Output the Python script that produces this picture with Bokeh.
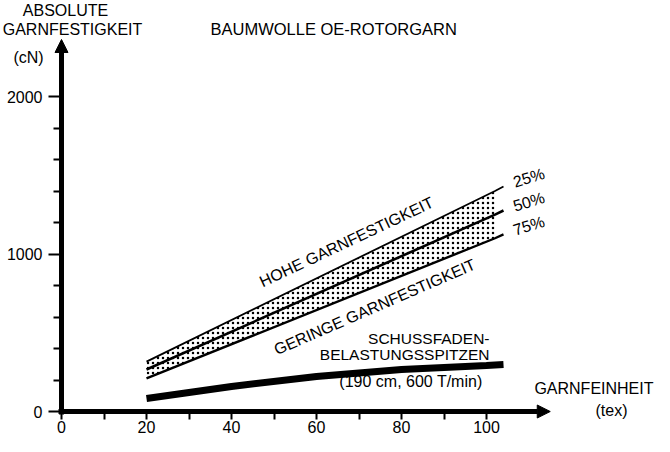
from bokeh.plotting import figure
from bokeh.models import Range1d, LinearAxis, FixedTicker, Arrow, NormalHead, Label
from bokeh.embed import file_html
from bokeh.resources import INLINE

# ---------------- data ----------------
x_band = [20, 102, 104]            # Garnfeinheit (tex)
q25 = [317, 1400, 1429]            # 25 % line (cN)
q50 = [267, 1250, 1276]            # 50 % line
q75 = [210, 1100, 1124]            # 75 % line
x_load = [20, 40, 60, 80, 100, 104]
load = [83, 159, 222, 267, 292, 298]   # Schussfaden-Belastungsspitzen
x_ticks = [0, 20, 40, 60, 80, 100]
x_minor = [10, 30, 50, 70, 90]
y_ticks = [0, 1000, 2000]
y_minor = [200, 400, 600, 800, 1200, 1400, 1600, 1800]
pct_labels = ["25%", "50%", "75%"]

# ---------------- layout ----------------
W, H = 654, 436
PXX, PXY = 4.25, 0.1575           # px per data unit
SX, SY = 8, 11                    # shift of the drawing against the reference picture
OX, OY = 69 - SX, 422 - SY        # origin in canvas px
FONT = "Liberation Sans"

p = figure(width=W, height=H, output_backend="svg", toolbar_location=None,
           x_range=Range1d(-OX / PXX, (W - OX) / PXX),
           y_range=Range1d(-(H - OY) / PXY, OY / PXY),
           x_axis_type=None, y_axis_type=None, min_border=0)
p.outline_line_color = None
p.background_fill_color = "white"
p.border_fill_color = "white"

axis_style = dict(axis_line_width=5, axis_line_color="black",
                  major_tick_line_width=2, minor_tick_line_width=2,
                  major_tick_line_color="black", minor_tick_line_color="black",
                  major_tick_in=0, minor_tick_in=0,
                  major_label_text_font=FONT, major_label_text_font_size="16px",
                  major_label_text_color="black")

xa = LinearAxis(fixed_location=0, bounds=(-0.6, 112),
                ticker=FixedTicker(ticks=x_ticks, minor_ticks=x_minor),
                major_tick_out=8, minor_tick_out=8, major_label_standoff=1,
                **axis_style)
ya = LinearAxis(fixed_location=0, bounds=(-16, 2280),
                ticker=FixedTicker(ticks=y_ticks, minor_ticks=y_minor),
                major_tick_out=13, minor_tick_out=8, major_label_standoff=6,
                **axis_style)
p.add_layout(xa, "below")
p.add_layout(ya, "left")

p.add_layout(Arrow(end=NormalHead(size=13, fill_color="black", line_color="black"),
                   x_start=105, y_start=0, x_end=115, y_end=0,
                   line_width=5, line_color="black"))
p.add_layout(Arrow(end=NormalHead(size=13, fill_color="black", line_color="black"),
                   x_start=0, y_start=2200, x_end=0, y_end=2362,
                   line_width=5, line_color="black"))

# stippled band
p.varea(x=x_band[:2], y1=q75[:2], y2=q25[:2], fill_alpha=0,
        hatch_pattern="dot", hatch_color="black", hatch_scale=5, hatch_weight=1.8)
p.line(x_band, q25, line_color="black", line_width=1.8)
p.line(x_band, q75, line_color="black", line_width=2.4)
p.line(x_band, q50, line_color="black", line_width=2.6)
p.line(x_load, load, line_color="black", line_width=7)


def dx(px):            # reference picture x -> data
    return (px - 69) / PXX


def dy(py):            # reference picture y -> data
    return (422 - py) / PXY


def cx(px):            # canvas x -> data
    return (px - OX) / PXX


def cy(py):            # canvas y -> data
    return (OY - py) / PXY


def lab(text, x, y, align="left", base="middle", angle=0.0, size="16px", **kw):
    p.add_layout(Label(x=x, y=y, text=text, text_align=align, text_baseline=base,
                       angle=angle, text_font=FONT, text_font_size=size,
                       text_color="black", **kw))


# header texts
lab("ABSOLUTE", cx(65), cy(10), align="center")
lab("GARNFESTIGKEIT", cx(72), cy(28.5), align="center")
lab("(cN)", cx(28), cy(57), align="center")
lab("BAUMWOLLE OE-ROTORGARN", cx(210), cy(28.5), size="16.5px")

for t, yy in zip(pct_labels, [q25[-1], q50[-1], q75[-1]]):
    lab(t, x_band[-1], yy, x_offset=10, y_offset=4, angle=0.3)

lab("HOHE GARNFESTIGKEIT", dx(268), dy(301), base="alphabetic", angle=0.44, y_offset=8)
lab("GERINGE GARNFESTIGKEIT", dx(279), dy(353), base="top", angle=0.41)

lab("SCHUSSFADEN-", dx(497), dy(349), align="right", size="15.5px")
lab("BELASTUNGSSPITZEN", dx(497), dy(365), align="right", size="15.5px")
lab("(190 cm, 600 T/min)", dx(490), dy(392), align="right")
lab("GARNFEINHEIT", cx(W - 1), dy(399), align="right")
lab("(tex)", dx(619), dy(421), align="center")

open("out.html", "w").write(file_html(p, INLINE))
